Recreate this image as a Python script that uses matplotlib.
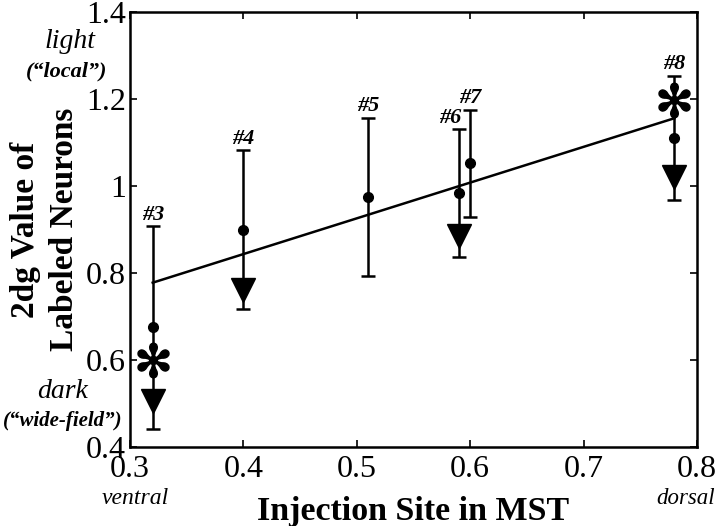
import matplotlib
matplotlib.use("Agg")
import matplotlib.pyplot as plt

# injection sites and labels
site_x = [0.32, 0.40, 0.51, 0.59, 0.60, 0.78]
site_names = ['#3', '#4', '#5', '#6', '#7', '#8']
mean_2dg = [0.675, 0.90, 0.975, 0.984, 1.052, 1.111]
err_2dg = [0.233, 0.183, 0.182, 0.147, 0.124, 0.143]

# triangle values (subset of sites)
tri_x = [0.32, 0.40, 0.59, 0.78]
tri_y = [0.505, 0.762, 0.885, 1.02]

# asterisks
star_x = [0.32, 0.78]
star_y = [0.60, 1.198]

# regression line ends
fit_x = [0.32, 0.78]
fit_y = [0.778, 1.156]

xticks = [0.3, 0.4, 0.5, 0.6, 0.7, 0.8]
yticks = [0.4, 0.6, 0.8, 1.0, 1.2, 1.4]

plt.rcParams['font.family'] = ['Liberation Serif', 'DejaVu Sans']

fig = plt.figure(figsize=(7.2, 5.26), dpi=100)
ax = fig.add_axes([0.1806, 0.150, 0.7875, 0.827])

ax.plot(fit_x, fit_y, color='black', lw=1.8)
ax.errorbar(site_x, mean_2dg, yerr=err_2dg, fmt='o', color='black',
            ms=7, lw=1.8, capsize=5, capthick=1.8)
ax.plot(tri_x, tri_y, 'v', color='black', ms=17)
ax.plot(star_x, star_y, linestyle='none', marker='$✻$', color='black', ms=25)

offsets = {'#6': -6}
for x, m, e, name in zip(site_x, mean_2dg, err_2dg, site_names):
    ax.annotate(name, (x, m + e), xytext=(offsets.get(name, 0), 1),
                textcoords='offset points', ha='center', va='bottom',
                fontsize=16, fontweight='bold', fontstyle='italic')

ax.set_xlim(0.3, 0.8)
ax.set_ylim(0.4, 1.4)
ax.set_xticks(xticks)
ax.set_xticklabels(['0.3', '0.4', '0.5', '0.6', '0.7', '0.8'])
ax.set_yticks(yticks)
ax.set_yticklabels(['0.4', '0.6', '0.8', '1', '1.2', '1.4'])
ax.tick_params(direction='in', length=5, width=1.2, labelsize=23,
               top=True, right=True)
ax.tick_params(axis='x', pad=6)
ax.tick_params(axis='y', pad=3)
for s in ax.spines.values():
    s.set_linewidth(1.8)

ax.set_xlabel('Injection Site in MST', fontsize=24.5, fontweight='bold', labelpad=8)
ax.set_ylabel('2dg Value of\nLabeled Neurons', fontsize=24, fontweight='bold',
              labelpad=4, linespacing=1.35)

# side annotations
fig.text(70 / 720, 1 - 42 / 526, 'light', fontsize=20, fontstyle='italic',
         ha='center', va='center')
fig.text(67 / 720, 1 - 71 / 526, '(\u201clocal\u201d)', fontsize=16, fontstyle='italic',
         fontweight='bold', ha='center', va='center')
fig.text(63 / 720, 1 - 392 / 526, 'dark', fontsize=20, fontstyle='italic',
         ha='center', va='center')
fig.text(63 / 720, 1 - 421 / 526, '(\u201cwide-field\u201d)', fontsize=15,
         fontstyle='italic', fontweight='bold', ha='center', va='center')
fig.text(135 / 720, 1 - 498 / 526, 'ventral', fontsize=17, fontstyle='italic',
         ha='center', va='center')
fig.text(686 / 720, 1 - 498 / 526, 'dorsal', fontsize=16.5, fontstyle='italic',
         ha='center', va='center')

fig.savefig('out.png', dpi=100)
